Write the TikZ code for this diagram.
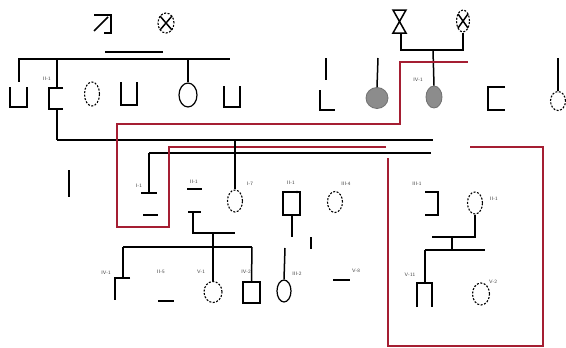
\documentclass[tikz,border=0pt]{standalone}
\usetikzlibrary{shapes.geometric}
\definecolor{linkred}{RGB}{165,30,50}
\definecolor{affgray}{RGB}{140,140,140}
\tikzset{
  ln/.style={line width=1.5pt, black},
  redln/.style={line width=1.2pt, linkred},
  solidc/.style={ellipse, draw, line width=1.2pt, inner sep=0pt},
  dashc/.style={ellipse, draw, line width=1.1pt, dash pattern=on 2pt off 1.5pt, inner sep=0pt},
  fillc/.style={ellipse, draw=affgray!80!black, fill=affgray, line width=0.8pt, inner sep=0pt},
  sqn/.style={rectangle, draw, line width=1.5pt, inner sep=0pt},
  lbl/.style={font=\sffamily\fontsize{5}{6}\selectfont, text=black!75, inner sep=0pt}
}
\begin{document}
\begin{tikzpicture}[x=1pt,y=-1pt]
\useasboundingbox (0,0) rectangle (566,348);

% ---------- generation I, left couple ----------
\draw[ln] (94,15) -- (111,15) -- (111,33) -- (104,33);
\draw[ln] (108,17) -- (94,31);
\node[dashc, minimum width=16pt, minimum height=20pt] (cxl) at (166,23) {};
\draw[ln] (160,16) -- (172,30);
\draw[ln] (172,16) -- (160,30);
\coordinate (ml1) at (105,52);
\coordinate (ml2) at (163,52);
\draw[ln] (ml1) -- (ml2);

% ---------- sibship, left ----------
\coordinate (sl) at (18,59);
\coordinate (sr) at (230,59);
\draw[ln] (sl) -- (sr);
\draw[ln] (19,59) -- (19,82);
\draw[ln] (10,87) -- (10,107) -- (27,107) -- (27,87);
\draw[ln] (57,59) -- (57,88);
\draw[ln] (63,88) -- (49,88) -- (49,109) -- (63,109);
\draw[ln] (57,109) -- (57,140);
\node[lbl] (l21) at (47,79) {II-1};
\node[dashc, minimum width=15pt, minimum height=24pt] (c22) at (92,94) {};
\draw[ln] (121,82) -- (121,105) -- (137,105) -- (137,82);
\node[solidc, minimum width=18pt, minimum height=24pt] (c24) at (188,95) {};
\draw[ln] (188,59) -- (c24.north);
\draw[ln] (224,86) -- (224,107) -- (240,107) -- (240,86);

% ---------- generation I, right couple ----------
\draw[ln] (393,10) -- (406,10) -- (393,33) -- (406,33) -- cycle;
\node[dashc, minimum width=13pt, minimum height=22pt] (cxr) at (463,21) {};
\draw[ln] (458,14) -- (468,28);
\draw[ln] (468,14) -- (458,28);
\coordinate (hg) at (401,33);
\draw[ln] (hg) -- (401,50) -- (463,50) -- (cxr.south);
\node[fillc, minimum width=16pt, minimum height=22pt] (f2) at (434,97) {};
\draw[ln] (433,50) -- (f2.north);
\node[lbl] (l41) at (418,80) {IV-1};

% ---------- right-hand row ----------
\draw[ln] (326,58) -- (326,80);
\draw[ln] (320,90) -- (320,110) -- (335,110);
\node[fillc, minimum width=22pt, minimum height=21pt] (f1) at (377,98) {};
\draw[ln] (378,58) -- (f1.north);
\draw[ln] (505,87) -- (488,87) -- (488,110) -- (505,110);
\node[dashc, minimum width=15pt, minimum height=19pt] (c29) at (558,101) {};
\draw[ln] (558,58) -- (c29.north);

% ---------- linking lines ----------
\draw[ln] (57,140) -- (433,140);
\draw[ln] (149,153) -- (431,153);
\draw[ln] (149,153) -- (149,193);
\draw[ln] (141,193) -- (157,193);
\draw[ln] (143,215) -- (158,215);
\node[lbl] (l11) at (139,186) {I-1};
\draw[redln] (386,147) -- (169,147) -- (169,227) -- (117,227) -- (117,124)
  -- (400,124) -- (400,62) -- (468,62);

\node[dashc, minimum width=15pt, minimum height=22pt] (c27) at (235,201) {};
\draw[ln] (235,140) -- (c27.north);
\node[lbl] (l27) at (250,184) {I-7};
\draw[ln] (69,170) -- (69,197);

% ---------- generation III, centre ----------
\node[lbl] (l31) at (194,182) {II-1};
\draw[ln] (187,189) -- (202,189);
\draw[ln] (188,212) -- (201,212);
\draw[ln] (193,212) -- (193,233) -- (235,233);
\node[dashc, minimum width=18pt, minimum height=21pt] (c51) at (213,292) {};
\draw[ln] (213,233) -- (c51.north);
\draw[ln] (123,247) -- (252,247);
\draw[ln] (123,247) -- (123,278);
\draw[ln] (130,278) -- (115,278) -- (115,300);
\node[lbl] (l4a) at (106,273) {IV-1};
\node[lbl] (l25) at (161,272) {II-5};
\draw[ln] (158,301) -- (174,301);
\node[lbl] (l5a) at (201,272) {V-1};
\node[sqn, minimum width=17pt, minimum height=21pt] (s42) at (251.5,292.5) {};
\draw[ln] (252,247) -- (s42.north);
\node[lbl] (l42) at (246,272) {IV-2};

\node[solidc, minimum width=14pt, minimum height=22pt] (c32) at (284,291) {};
\draw[ln] (285,248) -- (c32.north);
\node[lbl] (l32) at (297,274) {III-2};
\draw[ln] (311,237) -- (311,249);
\node[sqn, minimum width=17pt, minimum height=23pt] (s21) at (291.5,203.5) {};
\draw[ln] (292,215) -- (292,237);
\node[lbl] (l2s) at (291,183) {II-1};
\fill (297,192) circle (1.3pt);
\node[dashc, minimum width=15pt, minimum height=21pt] (c24b) at (335,202) {};
\node[lbl] (l34) at (346,184) {III-4};
\draw[ln] (333,280) -- (350,280);
\node[lbl] (l58) at (356,271) {V-8};

% ---------- boxed family, right ----------
\draw[redln] (470,147) -- (543,147) -- (543,346) -- (388,346) -- (388,158);
\draw[ln] (425,192) -- (438,192) -- (438,215) -- (425,215);
\node[lbl] (l3b) at (417,184) {III-1};
\node[dashc, minimum width=15pt, minimum height=22pt] (c3b) at (475,203) {};
\node[lbl] (l3c) at (494,199) {II-1};
\draw[ln] (c3b.south) -- (475,237) -- (432,237);
\draw[ln] (452,237) -- (452,250);
\draw[ln] (425,250) -- (485,250);
\draw[ln] (425,250) -- (425,283);
\draw[ln] (417,307) -- (417,283) -- (432,283) -- (432,307);
\node[lbl] (l5b) at (410,275) {V-11};
\node[dashc, minimum width=17pt, minimum height=22pt] (c5b) at (481,294) {};
\node[lbl] (l5c) at (493,282) {V-2};
\end{tikzpicture}
\end{document}
